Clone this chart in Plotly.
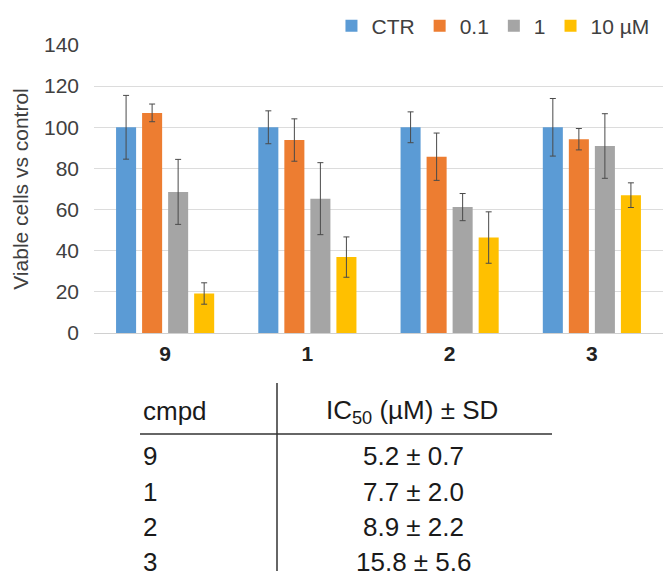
import plotly.graph_objects as go

# ---------------- data ----------------
categories = ["9", "1", "2", "3"]
series_names = ["CTR", "0.1", "1", "10 µM"]
ctr_vals = [100, 100, 100, 100]
ctr_sd = [15.5, 8.0, 7.5, 14.0]
c01_vals = [107.0, 93.8, 85.7, 94.2]
c01_sd = [4.3, 10.3, 11.5, 5.2]
c1_vals = [68.6, 65.3, 61.2, 90.9]
c1_sd = [15.8, 17.5, 6.6, 15.7]
c10_vals = [19.2, 36.9, 46.4, 67.0]
c10_sd = [5.2, 9.8, 12.5, 6.0]
y_ticks = [0, 20, 40, 60, 80, 100, 120, 140]

table_cmpds = ["9", "1", "2", "3"]
ic50_mean = [5.2, 7.7, 8.9, 15.8]
ic50_sd = [0.7, 2.0, 2.2, 5.6]

colors = ["#5B9BD5", "#ED7D31", "#A5A5A5", "#FFC000"]
FONT = "Arial, Liberation Sans, sans-serif"

# ---------------- geometry helpers ----------------
W, H = 663, 571
ML, MR, MT, MB = 94, 0, 45, 238
PW, PH = W - ML - MR, H - MT - MB


def px_x(x):
    return (x - ML) / PW


def px_y(y):
    return (H - MB - y) / PH


fig = go.Figure()
for name, vals, sd, col in zip(
    series_names,
    [ctr_vals, c01_vals, c1_vals, c10_vals],
    [ctr_sd, c01_sd, c1_sd, c10_sd],
    colors,
):
    fig.add_trace(
        go.Bar(
            x=categories,
            y=vals,
            name=name,
            marker=dict(color=col, line=dict(width=0)),
            error_y=dict(type="data", array=sd, visible=True,
                         color="#4a4a4a", thickness=1, width=3),
        )
    )

# ---------------- table below ----------------
ann = []
shapes = []
tfont = dict(family=FONT, size=26, color="#1a1a1a")
ann.append(dict(text="cmpd", x=px_x(141), y=px_y(411), xref="paper", yref="paper",
                xanchor="left", yanchor="middle", showarrow=False, font=tfont))
ann.append(dict(text="IC<sub>50</sub> (µM) ± SD", x=px_x(412), y=px_y(411),
                xref="paper", yref="paper", xanchor="center", yanchor="middle",
                showarrow=False, font=tfont))
row_y = [456, 492, 527, 562]
for c, m, s, yy in zip(table_cmpds, ic50_mean, ic50_sd, row_y):
    ann.append(dict(text=c, x=px_x(141), y=px_y(yy), xref="paper", yref="paper",
                    xanchor="left", yanchor="middle", showarrow=False, font=tfont))
    ann.append(dict(text=f"{m:.1f} ± {s:.1f}", x=px_x(413), y=px_y(yy),
                    xref="paper", yref="paper", xanchor="center", yanchor="middle",
                    showarrow=False, font=tfont))

shapes.append(dict(type="line", xref="paper", yref="paper",
                   x0=px_x(140), x1=px_x(552), y0=px_y(434), y1=px_y(434),
                   line=dict(color="#333333", width=1.5)))
shapes.append(dict(type="line", xref="paper", yref="paper",
                   x0=px_x(277), x1=px_x(277), y0=px_y(383), y1=px_y(H + 5),
                   line=dict(color="#333333", width=1.5)))

fig.update_layout(
    width=W, height=H,
    margin=dict(l=ML, r=MR, t=MT, b=MB, autoexpand=False),
    paper_bgcolor="white", plot_bgcolor="white",
    barmode="group", bargap=0.268, bargroupgap=0.23,
    font=dict(family=FONT, color="#404040"),
    showlegend=True,
    legend=dict(orientation="h", x=0.985, xanchor="right", y=px_y(26), yanchor="middle",
                font=dict(family=FONT, size=21, color="#404040"),
                itemwidth=30, traceorder="normal", bgcolor="rgba(0,0,0,0)"),
    annotations=ann,
    shapes=shapes,
)
fig.update_xaxes(type="category", showgrid=False, showline=False, ticks="",
                 tickfont=dict(family=FONT, size=21, color="#222222", weight="bold"),
                 ticklabelstandoff=6)
fig.update_yaxes(range=[0, 140], tickvals=y_ticks, showgrid=True,
                 gridcolor="#DCDCDC", gridwidth=1, zeroline=True,
                 zerolinecolor="#D0D0D0", zerolinewidth=1, showline=False, ticks="",
                 tickfont=dict(family=FONT, size=21, color="#404040"),
                 ticklabelstandoff=14,
                 title=dict(text="Viable cells vs control",
                            font=dict(family=FONT, size=21, color="#404040"),
                            standoff=9))

fig.write_html("out.html")
